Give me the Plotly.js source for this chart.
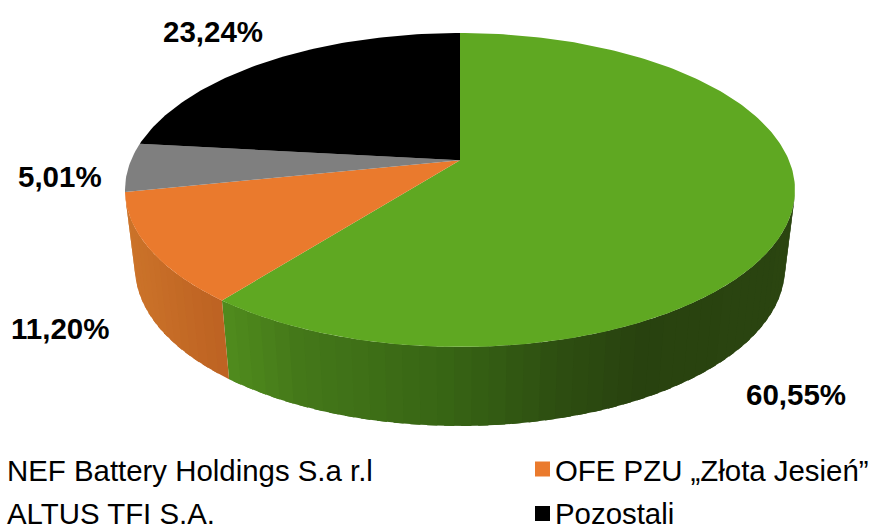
<!DOCTYPE html>
<html><head><meta charset="utf-8">
<script src="https://cdn.plot.ly/plotly-3.0.1.min.js"></script>
<style>html,body{margin:0;padding:0;background:#fff;overflow:hidden}#c{width:869px;height:524px}</style>
</head><body><div id="c"></div>
<script>
const categories = ["NEF Battery Holdings S.a r.l","OFE PZU „Złota Jesień”","ALTUS TFI S.A.","Pozostali"];
const values = [60.55,11.20,5.01,23.24];
const valueLabels = ["60,55%","11,20%","5,01%","23,24%"];
const topColors = ["#5fa822","#ea7a2d","#7f7f7f","#000000"];
// side shading stops: [pixel x, r,g,b]
const sideStops = [
  [[225,80,140,29],[300,68,120,25],[450,55,100,20],[560,45,78,17],[640,40,66,15],[800,43,69,16]],
  [[120,205,117,42],[230,188,97,34]],
  [[120,90,90,90],[230,90,90,90]],
  [[120,0,0,0],[800,0,0,0]]
];
const labelPos = [[796,394],[60,328],[60,176],[213,31]];
const legendX = [-22,542.5,-22,542.5];
const legendTextX = [7,555,7,555];
const legendY = [470,470,513,513];
const keyY = [469,469,513.5,513.5];

// perspective ellipse geometry
const top_ = {cx:460,cy:190,rx:335,ry:157};
const bot = {cx:460,cy:268,rx:325,ry:158};
const k = 0.19;
function rim(deg){ // angle clockwise from 12 o'clock, returns normalized coords with perspective
  const a=deg*Math.PI/180, u=Math.sin(a), v=Math.cos(a), d=1+k*v;
  return [u*Math.sqrt(1-k*k)/d,(v+k)/d];
}
const P=(e,p)=>[e.cx+e.rx*p[0], e.cy-e.ry*p[1]];
function shade(stops,x){
  const s=stops;
  if(x<=s[0][0]) return `rgb(${s[0][1]},${s[0][2]},${s[0][3]})`;
  for(let i=1;i<s.length;i++){ if(x<=s[i][0]){
    const t=(x-s[i-1][0])/(s[i][0]-s[i-1][0]);
    const c=[1,2,3].map(j=>Math.round(s[i-1][j]+t*(s[i][j]-s[i-1][j])));
    return `rgb(${c})`; } }
  const l=s[s.length-1]; return `rgb(${l[1]},${l[2]},${l[3]})`;
}
const traces=[];
function poly(pts,color,w){
  traces.push({type:'scatter',mode:'lines',x:pts.map(p=>p[0]).concat(pts[0][0]),y:pts.map(p=>p[1]).concat(pts[0][1]),
    fill:'toself',fillcolor:color,line:{color:color,width:w},hoverinfo:'skip',showlegend:false});
}
const total=values.reduce((a,b)=>a+b,0);
// sides: overlapping strips, painted right to left so no seams appear
let ang=0;
values.forEach((val,i)=>{
  const sweep=val/total*360, n=Math.max(2,Math.ceil(sweep/2.5));
  for(let j=0;j<n;j++){
    const a0=ang+sweep*j/n,a1=ang+sweep*(j+1)/n;
    const p0=rim(a0),p1=rim(a1);
    if((p0[1]+p1[1])/2>=0) continue;
    const pe=rim(j<n-1?a1+sweep/n*0.6:a1);
    const pm=rim(a1);
    const A=P(top_,p0),B=P(top_,pe),C=P(bot,pe),D=P(bot,p0);
    poly([A,B,C,D],shade(sideStops[i],(P(top_,p0)[0]+P(top_,pm)[0]+P(bot,p0)[0]+P(bot,pm)[0])/4),0);
  }
  ang+=sweep;
});
// top faces
ang=0;
values.forEach((val,i)=>{
  const sweep=val/total*360, n=Math.ceil(sweep);
  const pts=[P(top_,[0,k])];
  for(let j=0;j<=n;j++) pts.push(P(top_,rim(ang+sweep*j/n)));
  poly(pts,topColors[i],0);
  ang+=sweep;
});
// legend keys
traces.push({type:'scatter',mode:'markers',x:legendX,y:keyY,
  marker:{symbol:'square',size:15,color:topColors,line:{width:0}},hoverinfo:'skip',showlegend:false,cliponaxis:true});
const annotations=[];
valueLabels.forEach((t,i)=>annotations.push({x:labelPos[i][0],y:labelPos[i][1],text:'<b>'+t+'</b>',showarrow:false,
  xanchor:'center',yanchor:'middle',font:{family:'Liberation Sans, Arial, sans-serif',size:29.5,color:'#000'}}));
categories.forEach((t,i)=>annotations.push({x:legendTextX[i],y:legendY[i],text:t,showarrow:false,
  xanchor:'left',yanchor:'middle',xshift:-2,font:{family:'Liberation Sans, Arial, sans-serif',size:29.4,color:'#000'}}));
Plotly.newPlot('c',traces,{
  width:869,height:524,margin:{l:0,r:0,t:0,b:0},paper_bgcolor:'#fff',plot_bgcolor:'#fff',showlegend:false,
  xaxis:{range:[0,869],visible:false,fixedrange:true},
  yaxis:{range:[524,0],visible:false,fixedrange:true},
  annotations:annotations
},{displayModeBar:false,staticPlot:true});
</script></body></html>
